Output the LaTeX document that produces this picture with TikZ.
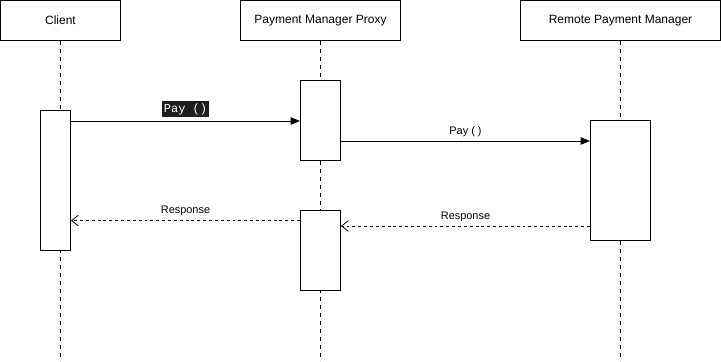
\documentclass[tikz,border=0pt]{standalone}
\usepackage{fontspec}
\setmainfont{Liberation Sans}
\setmonofont{Liberation Mono}
\usepackage{xcolor}
\usetikzlibrary{arrows.meta}

\tikzset{
  head/.style={draw, line width=0.75pt, fill=white, minimum height=30pt, inner sep=0pt, font=\fontsize{9}{11}\selectfont},
  actbox/.style={draw, line width=0.75pt, fill=white, inner sep=0pt},
  lifeline/.style={line width=0.75pt, dash pattern=on 3pt off 3pt},
  callmsg/.style={line width=0.75pt, -{Triangle[length=7pt, width=5.5pt]}},
  retmsg/.style={line width=0.6pt, dash pattern=on 2.2pt off 2.2pt, -{Straight Barb[length=5pt, width=8pt, line width=0.6pt]}},
  msglabel/.style={font=\fontsize{8.2}{10}\selectfont, inner sep=1pt}
}

\begin{document}
\begin{tikzpicture}[x=0.75pt,y=0.75pt,yscale=-1]
\useasboundingbox (0,0) rectangle (721,361);

%Lifeline heads
\node[head, minimum width=90pt] (client) at (60.5,20.5) {Client};
\node[head, minimum width=120pt] (proxy) at (320.5,20.5) {Payment Manager Proxy};
\node[head, minimum width=150pt] (remote) at (620.5,20.5) {Remote Payment Manager};

%Lifelines
\coordinate (clientEnd) at (60.5,361);
\coordinate (proxyEnd) at (320.5,361);
\coordinate (remoteEnd) at (620.5,361);
\draw[lifeline] (client.south) -- (clientEnd);
\draw[lifeline] (proxy.south) -- (proxyEnd);
\draw[lifeline] (remote.south) -- (remoteEnd);

%Activation boxes
\node[actbox, minimum width=22.5pt, minimum height=105pt] (clientAct) at (55.5,180.5) {};
\node[actbox, minimum width=30pt, minimum height=60pt] (proxyActA) at (320.5,120.5) {};
\node[actbox, minimum width=30pt, minimum height=60pt] (proxyActB) at (320.5,250.5) {};
\node[actbox, minimum width=45pt, minimum height=90pt] (remoteAct) at (620.5,180.5) {};

%Message heights
\coordinate (payA) at (0,121);
\coordinate (payB) at (0,141);
\coordinate (resA) at (0,226);
\coordinate (resB) at (0,220.5);

%Calls
\draw[callmsg] (clientAct.east |- payA) -- (proxyActA.west |- payA)
  node[pos=0.5, above=3pt, fill={rgb,255:red,30;green,30;blue,30}, text=white, inner sep=1.5pt, font=\ttfamily\fontsize{9}{10}\selectfont] (payLabelA) {Pay ()};
\draw[callmsg] (proxyActA.east |- payB) -- (remoteAct.west |- payB)
  node[pos=0.5, above=2pt, msglabel] (payLabelB) {Pay ( )};

%Returns
\draw[retmsg] (remoteAct.west |- resA) -- (proxyActB.east |- resA)
  node[pos=0.5, above=2pt, msglabel] (resLabelA) {Response};
\draw[retmsg] (proxyActB.west |- resB) -- (clientAct.east |- resB)
  node[pos=0.5, above=2pt, msglabel] (resLabelB) {Response};

\end{tikzpicture}
\end{document}
